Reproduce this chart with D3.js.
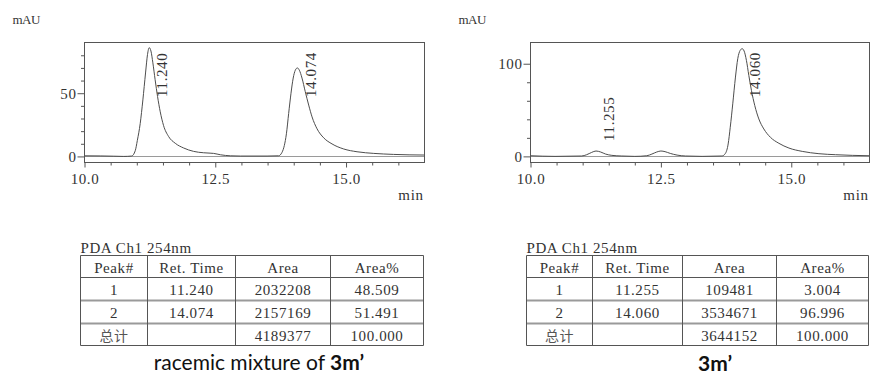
<!DOCTYPE html>
<html>
<head>
<meta charset="utf-8">
<script src="https://cdn.jsdelivr.net/npm/d3@7/dist/d3.min.js"></script>
<style>
  html, body { margin: 0; padding: 0; background: #fff; }
  svg { display: block; }
  .mono { font-family: "Liberation Serif", "Noto Sans CJK SC", serif; font-size: 15px; letter-spacing: 0.6px; fill: #333; }
  .caption { font-family: Lato, "Open Sans", sans-serif; font-size: 21px; fill: #111; }
</style>
</head>
<body>
<svg id="chart" width="870" height="375"></svg>
<script>
// ---- Chromatogram traces: retention time (min) and absorbance (mAU) ----
const racemicTime = [10.00, 10.30, 10.55, 10.75, 10.90, 10.97, 11.01, 11.065, 11.116, 11.167, 11.205, 11.237,
  11.27, 11.307, 11.35, 11.397, 11.448, 11.51, 11.607, 11.735, 11.894, 12.085, 12.277, 12.40, 12.468, 12.60,
  12.787, 12.98, 13.49, 13.71, 13.776, 13.82, 13.86, 13.903, 13.948, 13.99, 14.03, 14.07, 14.107, 14.158,
  14.22, 14.286, 14.35, 14.445, 14.573, 14.732, 14.955, 15.21, 15.53, 15.91, 16.5];
const racemicSignal = [0.5, 0.4, 0.2, 0.0, 0.3, 4.5, 12.6, 26, 44.7, 66, 80.7, 86,
  83.4, 74, 60.7, 47.3, 35.3, 24.6, 15.8, 10.4, 6.7, 4.0, 2.9, 2.6, 2.4, 1.3,
  0.5, 0.3, 0.3, 0.5, 3.2, 8.6, 17.9, 34, 50, 62, 68.2, 70, 68.2, 62,
  51.3, 40.6, 31.3, 21.9, 14.7, 9.9, 5.9, 3.7, 2.4, 1.6, 1.1];

const enrichedTime = [10.00, 10.47, 10.98, 11.077, 11.173, 11.256, 11.346, 11.44, 11.56, 11.75, 12.00, 12.23,
  12.327, 12.42, 12.50, 12.58, 12.68, 12.81, 12.97, 13.29, 13.67, 13.737, 13.79, 13.83, 13.878, 13.93,
  13.974, 14.02, 14.058, 14.096, 14.14, 14.186, 14.237, 14.30, 14.378, 14.474, 14.60, 14.763, 14.955,
  15.21, 15.53, 15.85, 16.17, 16.5];
const enrichedSignal = [0.7, 0.0, 0.4, 1.8, 4.3, 5.8, 4.7, 2.5, 1.1, 0.4, 0.0, 0.7,
  2.5, 4.7, 5.8, 5.1, 3.2, 1.4, 0.4, 0.0, 0.4, 3.2, 13.4, 31.4, 56.7, 85.6,
  105.4, 114.4, 116.2, 113.7, 103.6, 87.4, 71, 54.9, 40.4, 29.6, 20.6, 14.1, 9.0,
  5.4, 2.9, 1.8, 1.1, 0.7];

// ---- Peak tables ----
const tableHeaders = ["Peak#", "Ret. Time", "Area", "Area%"];
const totalLabel = "总计";
const racemicPeaks = [1, 2];
const racemicRetTime = [11.240, 14.074];
const racemicArea = [2032208, 2157169];
const racemicAreaPct = [48.509, 51.491];
const racemicTotalArea = 4189377;
const racemicTotalPct = 100.000;

const enrichedPeaks = [1, 2];
const enrichedRetTime = [11.255, 14.060];
const enrichedArea = [109481, 3534671];
const enrichedAreaPct = [3.004, 96.996];
const enrichedTotalArea = 3644152;
const enrichedTotalPct = 100.000;

// ---- Axis ticks ----
const xMajorTicks = [10.0, 12.5, 15.0];
const xMinorTicks = [10.5, 11.0, 11.5, 12.0, 13.0, 13.5, 14.0, 14.5, 15.5, 16.0];
const racemicYMajor = [0, 50];
const racemicYMinor = [10, 20, 30, 40, 60, 70, 80];
const enrichedYMajor = [0, 100];
const enrichedYMinor = [20, 40, 60, 80];

const channelLabel = "PDA Ch1 254nm";
const yUnit = "mAU";
const xUnit = "min";

const svg = d3.select("#chart");
const fmt3 = d3.format(".3f");
const fmt1 = d3.format(".1f");

function drawPanel(cfg) {
  const g = svg.append("g");
  const x = d3.scaleLinear().domain([10, 16.5]).range([cfg.left, cfg.right]);
  const y = d3.scaleLinear().domain(cfg.yDomain).range([cfg.bottom, cfg.top]);

  const clipId = "clip" + cfg.id;
  svg.append("clipPath").attr("id", clipId).append("rect")
    .attr("x", cfg.left).attr("y", cfg.top)
    .attr("width", cfg.right - cfg.left).attr("height", cfg.bottom - cfg.top);

  // zero baseline
  g.append("line")
    .attr("x1", x(10)).attr("x2", x(16.5))
    .attr("y1", Math.round(y(0)) + 0.5).attr("y2", Math.round(y(0)) + 0.5)
    .attr("stroke", "#9a9a9a").attr("stroke-width", 1);

  // signal trace
  const pts = cfg.time.map((t, i) => [t, cfg.signal[i]]);
  g.append("path")
    .datum(pts)
    .attr("clip-path", `url(#${clipId})`)
    .attr("fill", "none")
    .attr("stroke", "#4d4d4d")
    .attr("stroke-width", 1)
    .attr("d", d3.line().x(d => x(d[0])).y(d => y(d[1])).curve(d3.curveMonotoneX));

  // frame
  g.append("rect")
    .attr("x", cfg.left).attr("y", cfg.top)
    .attr("width", cfg.right - cfg.left).attr("height", cfg.bottom - cfg.top)
    .attr("fill", "none").attr("stroke", "#555").attr("stroke-width", 1);

  // y axis
  const yMinor = g.append("g").attr("transform", `translate(${cfg.left},0)`)
    .call(d3.axisLeft(y).tickValues(cfg.yMinor).tickSize(3.5).tickFormat(""));
  const yMajor = g.append("g").attr("transform", `translate(${cfg.left},0)`)
    .call(d3.axisLeft(y).tickValues(cfg.yMajor).tickSize(7).tickPadding(1).tickFormat(d3.format("d")));
  // x axis
  const xMinor = g.append("g").attr("transform", `translate(0,${cfg.bottom})`)
    .call(d3.axisBottom(x).tickValues(xMinorTicks).tickSize(3).tickFormat(""));
  const xMajor = g.append("g").attr("transform", `translate(0,${cfg.bottom})`)
    .call(d3.axisBottom(x).tickValues(xMajorTicks).tickSize(5).tickPadding(6).tickFormat(fmt1));

  [yMinor, yMajor, xMinor, xMajor].forEach(a => {
    a.select(".domain").remove();
    a.selectAll(".tick line").attr("stroke", "#555");
    a.selectAll(".tick text").attr("class", "mono").attr("font-family", null).attr("font-size", null).attr("fill", null);
  });

  // units
  g.append("text").attr("class", "mono").style("font-size", "13px").style("letter-spacing", "-0.5px")
    .attr("x", cfg.left - 72).attr("y", 24).text(yUnit);
  g.append("text").attr("class", "mono").attr("text-anchor", "end")
    .attr("x", cfg.right - 1).attr("y", 200).text(xUnit);

  // peak labels, rotated
  cfg.retTime.forEach(rt => {
    let apex = 0;
    cfg.time.forEach((t, i) => { if (Math.abs(t - rt) < 0.06) apex = Math.max(apex, cfg.signal[i]); });
    const bottomY = Math.max(y(apex) - 10, cfg.top + 54.5);
    const lx = x(rt) + 18;
    g.append("text").attr("class", "mono")
      .attr("transform", `translate(${lx},${bottomY}) rotate(-90)`)
      .attr("text-anchor", "start")
      .text(fmt3(rt));
  });
}

function drawTable(cfg) {
  const g = svg.append("g");
  const cols = cfg.cols;
  const rows = [255.5, 277.5, 300.5, 323.5, 345.5];

  g.append("text").attr("class", "mono").attr("x", cols[0]).attr("y", 253).text(channelLabel);

  const cells = [tableHeaders];
  cfg.peaks.forEach((p, i) => cells.push([String(p), fmt3(cfg.retTime[i]), String(cfg.area[i]), fmt3(cfg.pct[i])]));
  cells.push([totalLabel, "", String(cfg.totalArea), fmt3(cfg.totalPct)]);

  // row separators
  rows.forEach((ry, i) => {
    const soft = (i === 2 || i === 3);
    g.append("line")
      .attr("x1", cols[0]).attr("x2", cols[cols.length - 1])
      .attr("y1", ry).attr("y2", ry)
      .attr("stroke", soft ? "#9a9a9a" : "#555")
      .attr("stroke-width", soft ? 2 : 1);
  });
  cols.forEach(cx => {
    g.append("line").attr("x1", cx).attr("x2", cx)
      .attr("y1", rows[0]).attr("y2", rows[rows.length - 1])
      .attr("stroke", "#555").attr("stroke-width", 1);
  });

  cells.forEach((row, r) => {
    const mid = (rows[r] + rows[r + 1]) / 2;
    row.forEach((val, c) => {
      const t = g.append("text").attr("class", "mono").attr("text-anchor", "middle")
        .attr("x", (cols[c] + cols[c + 1]) / 2).attr("y", mid + 6).text(val);
      if (val === totalLabel) t.style("font-size", "14px").style("fill", "#555");
    });
  });
}

drawPanel({
  id: "A", left: 84.5, right: 424.5, top: 42.5, bottom: 162.5,
  yDomain: [-4.8, 90.1], yMajor: racemicYMajor, yMinor: racemicYMinor,
  time: racemicTime, signal: racemicSignal, retTime: racemicRetTime
});
drawPanel({
  id: "B", left: 530.5, right: 869.5, top: 42.5, bottom: 162.5,
  yDomain: [-6.6, 122.9], yMajor: enrichedYMajor, yMinor: enrichedYMinor,
  time: enrichedTime, signal: enrichedSignal, retTime: enrichedRetTime
});

drawTable({
  cols: [80.5, 147.5, 235.5, 330.5, 423.5],
  peaks: racemicPeaks, retTime: racemicRetTime, area: racemicArea, pct: racemicAreaPct,
  totalArea: racemicTotalArea, totalPct: racemicTotalPct
});
drawTable({
  cols: [526.5, 592.5, 682.5, 776.5, 868.5],
  peaks: enrichedPeaks, retTime: enrichedRetTime, area: enrichedArea, pct: enrichedAreaPct,
  totalArea: enrichedTotalArea, totalPct: enrichedTotalPct
});

// captions
const cap1 = svg.append("text").attr("class", "caption").attr("text-anchor", "middle")
  .attr("x", 259).attr("y", 370);
cap1.append("tspan").text("racemic mixture of ");
cap1.append("tspan").attr("font-weight", "bold").text("3m’");

svg.append("text").attr("class", "caption").attr("text-anchor", "middle")
  .attr("x", 715).attr("y", 371).attr("font-weight", "bold").text("3m’");
</script>
</body>
</html>
